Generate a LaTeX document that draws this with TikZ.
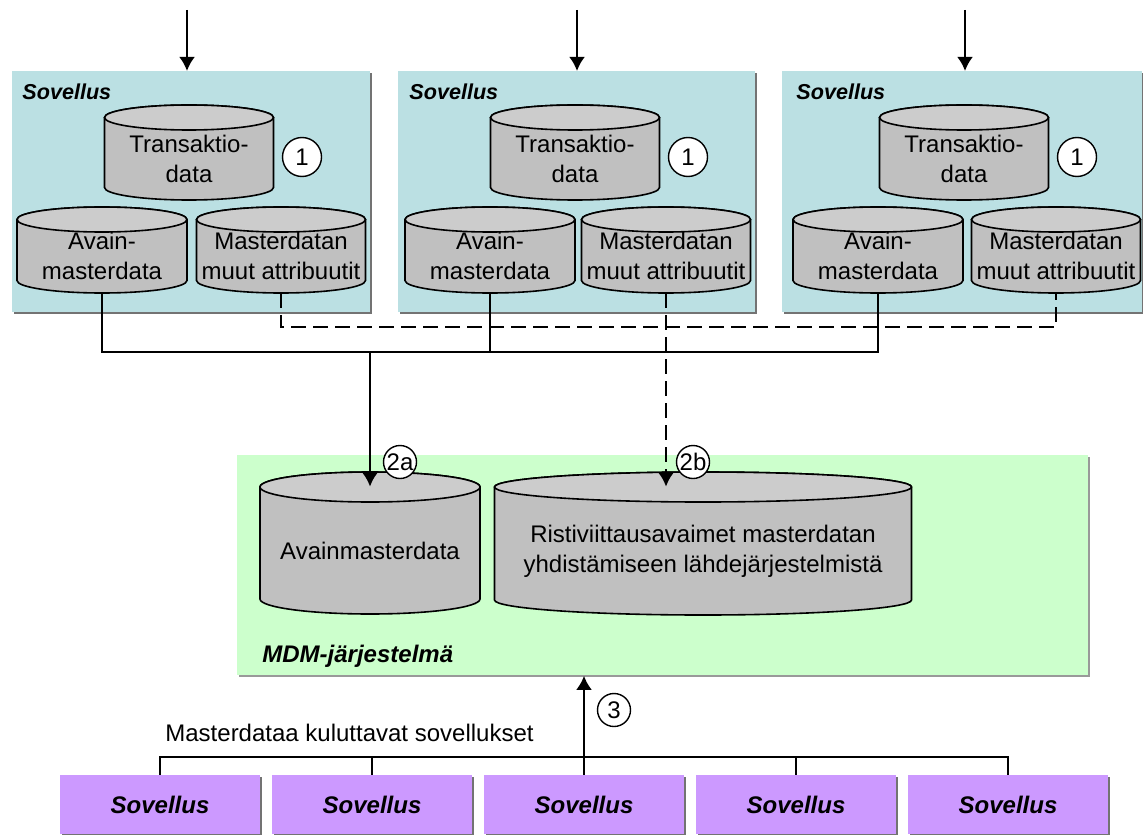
\documentclass[tikz,border=0pt]{standalone}
\usepackage{fontspec}
\setmainfont{Liberation Sans}
\usetikzlibrary{arrows.meta,shadows}

\definecolor{appblue}{RGB}{187,224,227}
\definecolor{mdmgreen}{RGB}{204,255,204}
\definecolor{userpurple}{RGB}{204,153,255}
\definecolor{dbbody}{RGB}{192,192,192}
\definecolor{dbtop}{RGB}{204,204,204}

\tikzset{
  appbox/.style={fill=appblue, anchor=north west, minimum height=120.5pt,
    drop shadow={shadow xshift=1pt, shadow yshift=-1pt, fill=black!55, opacity=1}},
  mdmbox/.style={fill=mdmgreen, anchor=north west,
    drop shadow={shadow xshift=1pt, shadow yshift=-1pt, fill=black!40, opacity=1}},
  userbox/.style={fill=userpurple, minimum width=100pt, minimum height=29.5pt,
    font=\fontsize{12}{15}\selectfont\bfseries\itshape,
    drop shadow={shadow xshift=1pt, shadow yshift=-1pt, fill=black!55, opacity=1}},
  applabel/.style={anchor=west, inner sep=0pt, font=\fontsize{10.8}{12}\selectfont\bfseries\itshape},
  dbtext/.style={inner sep=0pt, align=center, font=\fontsize{12}{15}\selectfont},
  dbline/.style={line width=0.8pt},
  numcirc/.style={circle, draw, line width=0.7pt, fill=white, inner sep=0pt,
    minimum size=16.5pt, font=\fontsize{12}{14}\selectfont},
  link/.style={line width=1.3pt},
  optlink/.style={line width=1.3pt, dash pattern=on 7.5pt off 3.5pt}
}

% database cylinder: name, centre x, top y, width, height, end radius, text
\newcommand{\dbcyl}[7]{%
  \filldraw[dbline, fill=dbbody] ({#2-#4/2},{#3+#6}) -- ({#2-#4/2},{#3+#5-#6})
    arc[start angle=180, end angle=0, x radius={#4/2}, y radius={#6}]
    -- ({#2+#4/2},{#3+#6})
    arc[start angle=0, end angle=-180, x radius={#4/2}, y radius={#6}] -- cycle;
  \filldraw[dbline, fill=dbtop] (#2,{#3+#6}) ellipse[x radius={#4/2}, y radius={#6}];
  \node[dbtext, minimum width={#4*0.5pt}, minimum height={(#5-#6)*0.5pt}]
    (#1) at (#2,{#3+(#5+#6)/2}) {#7};
}

\begin{document}
\begin{tikzpicture}[x=0.5pt, y=-0.5pt, >={Latex[length=7pt,width=8pt]}]
\useasboundingbox (0,0) rectangle (1143,834);

% Source applications
\node[appbox, minimum width=179pt] (app1) at (12,71) {};
\node[appbox, minimum width=178.5pt] (app2) at (398,71) {};
\node[appbox, minimum width=180pt] (app3) at (782,71) {};
\node[applabel] (lbl1) at (22,92) {Sovellus};
\node[applabel] (lbl2) at (409,92) {Sovellus};
\node[applabel] (lbl3) at (796,92) {Sovellus};

% Incoming data
\coordinate (in1) at (187,10);
\coordinate (in2) at (577,10);
\coordinate (in3) at (965,10);
\draw[link,->] (in1) -- (in1 |- app1.north);
\draw[link,->] (in2) -- (in2 |- app2.north);
\draw[link,->] (in3) -- (in3 |- app3.north);

% Databases in the applications
\dbcyl{tx1}{189}{105}{169}{95}{12.5}{Transaktio-\\data}
\dbcyl{key1}{102}{207}{170}{86}{12.5}{Avain-\\masterdata}
\dbcyl{attr1}{281}{207}{169}{86}{12.5}{Masterdatan\\muut attribuutit}

\dbcyl{tx2}{575}{105}{169}{95}{12.5}{Transaktio-\\data}
\dbcyl{key2}{490}{207}{170}{86}{12.5}{Avain-\\masterdata}
\dbcyl{attr2}{666}{207}{169}{86}{12.5}{Masterdatan\\muut attribuutit}

\dbcyl{tx3}{964}{105}{169}{95}{12.5}{Transaktio-\\data}
\dbcyl{key3}{878}{207}{170}{86}{12.5}{Avain-\\masterdata}
\dbcyl{attr3}{1056}{207}{169}{86}{12.5}{Masterdatan\\muut attribuutit}

\node[numcirc, minimum size=19.5pt] (n1) at (302,157) {1};
\node[numcirc, minimum size=19.5pt] (n2) at (688,157) {1};
\node[numcirc, minimum size=19.5pt] (n3) at (1077,157) {1};

% MDM system
\node[mdmbox, minimum width=425.5pt, minimum height=110pt] (mdm) at (237,455) {};
\dbcyl{mdmkey}{370}{472}{220}{142}{15}{Avainmasterdata}
\dbcyl{mdmxref}{703}{472}{417}{143}{15}{Ristiviittausavaimet masterdatan\\yhdistämiseen lähdejärjestelmistä}
\node[applabel, font=\fontsize{12}{14}\selectfont\bfseries\itshape] (mdmlbl) at (262,656) {MDM-järjestelmä};

% Key master data (solid)
\coordinate (sbus) at (370,352);
\draw[link] (key1.south) |- (sbus) -| (key3.south);
\draw[link] (key2.south) -- (key2.south |- sbus);
\draw[link,->] (sbus) -- (mdmkey.north);

% Other attributes (dashed)
\coordinate (dbus) at (666,327);
\draw[optlink] (attr1.south) |- (dbus) -| (attr3.south);
\draw[optlink,->] (attr2.south) -- (attr2.south |- mdmxref.north);

\node[numcirc] (n2a) at (400,462) {2a};
\node[numcirc] (n2b) at (693,462) {2b};

% Consuming applications
\node[userbox] (c1) at (160,804.5) {Sovellus};
\node[userbox] (c2) at (372,804.5) {Sovellus};
\node[userbox] (c3) at (584,804.5) {Sovellus};
\node[userbox] (c4) at (796,804.5) {Sovellus};
\node[userbox] (c5) at (1008,804.5) {Sovellus};
\node[anchor=west, inner sep=0pt, font=\fontsize{12}{14}\selectfont] (cons) at (165,733) {Masterdataa kuluttavat sovellukset};

\coordinate (cbus) at (584,757);
\draw[link] (c1.north) |- (cbus) -| (c5.north);
\draw[link] (c2.north) -- (c2.north |- cbus);
\draw[link] (c4.north) -- (c4.north |- cbus);
\draw[link,->] (c3.north) -- (c3.north |- mdm.south);
\node[numcirc] (n3c) at (614,710) {3};

\end{tikzpicture}
\end{document}
